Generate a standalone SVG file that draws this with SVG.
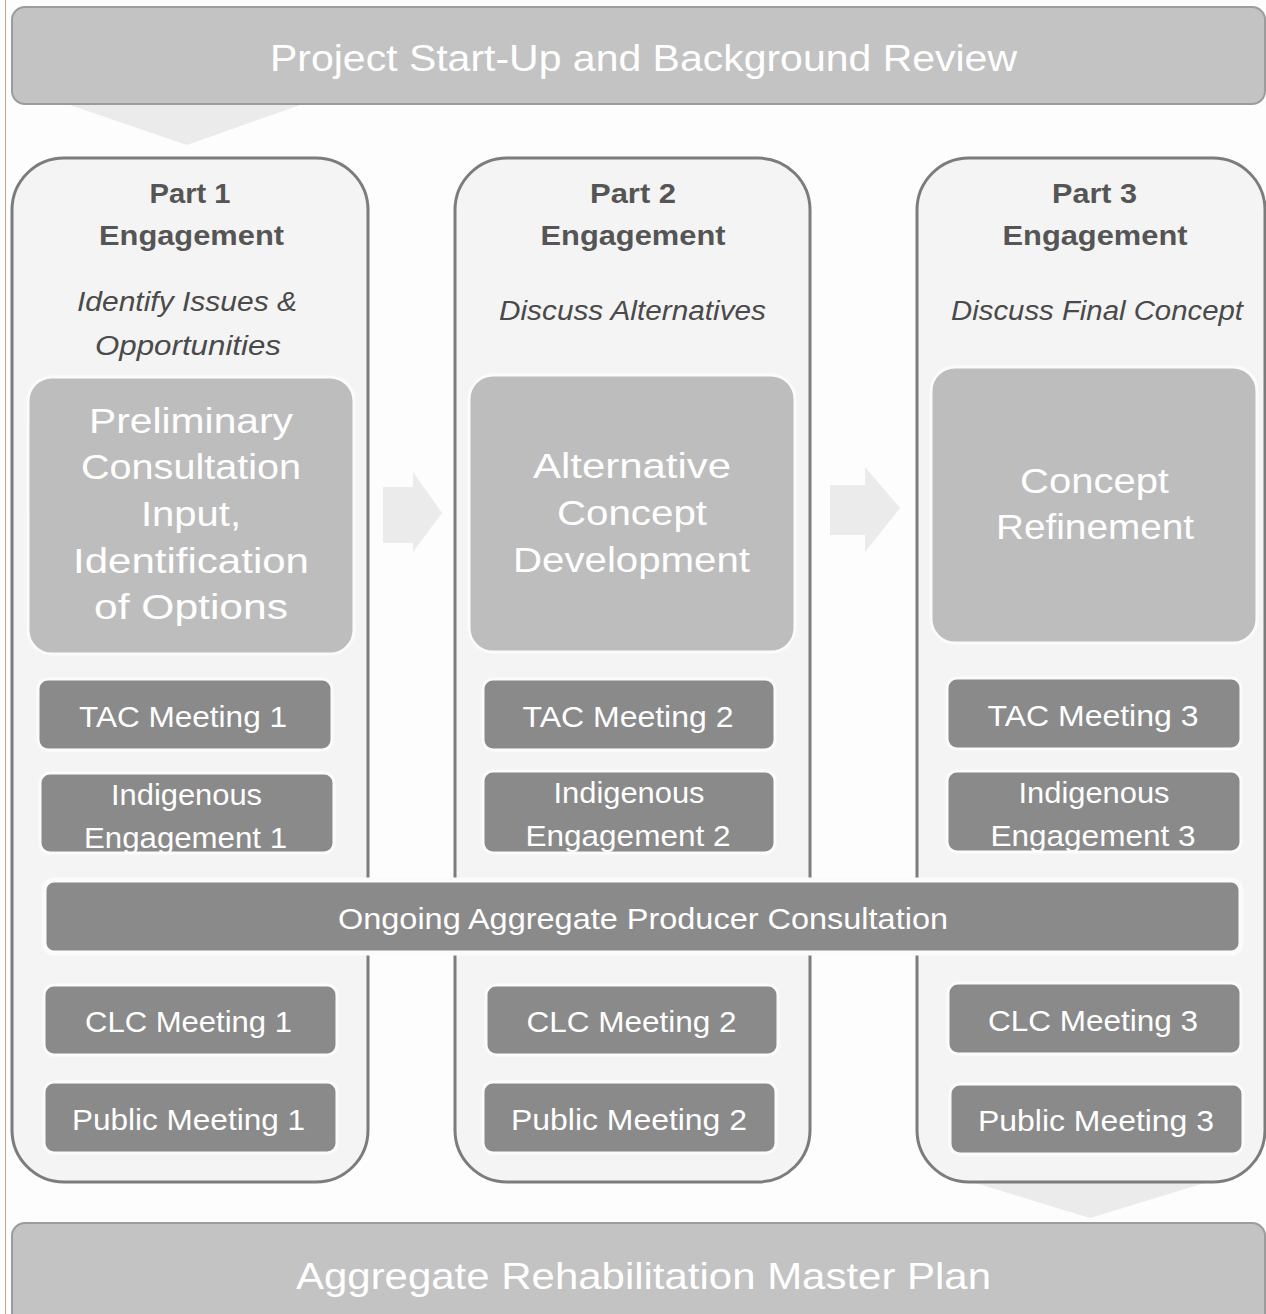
<svg xmlns="http://www.w3.org/2000/svg" width="1266" height="1314" viewBox="0 0 1266 1314">
<style>
text{font-family:"Liberation Sans",Arial,sans-serif;text-anchor:middle}
.banner{fill:#c3c3c3;stroke:#9c9c9c;stroke-width:2}
.bannerTxt{fill:#ffffff;font-size:37px}
.col{fill:#f4f4f4;stroke:#7c7c7c;stroke-width:3}
.head{fill:#555555;font-size:28px;font-weight:bold}
.sub{fill:#4a4a4a;font-size:27px;font-style:italic}
.big{fill:#bdbdbd;stroke:#fbfbfb;stroke-width:3}
.bigTxt{fill:#ffffff;font-size:35px}
.box{fill:#8a8a8a;stroke:#fbfbfb;stroke-width:3}
.boxTxt{fill:#ffffff;font-size:29px}
.conn{fill:#ebebeb}
</style>
<rect x="0" y="0" width="1266" height="1314" fill="#fdfdfd"/>
<line x1="5.5" y1="0" x2="5.5" y2="1314" stroke="#c9a387" stroke-width="1"/>

<g id="connectors">
<polygon class="conn" points="67,104 303,104 187,145"/>
<polygon class="conn" points="972,1182 1208,1182 1090,1218"/>
<polygon class="conn" points="383,487 413,487 413,472 442,513 413,552 413,543 383,543"/>
<polygon class="conn" points="830,485 865,485 865,467 900,508 865,552 865,535 830,535"/>
</g>

<g id="start">
<rect class="banner" x="12" y="7" width="1253" height="97" rx="13"/>
<text class="bannerTxt" x="643.5" y="71" textLength="747" lengthAdjust="spacingAndGlyphs">Project Start-Up and Background Review</text>
</g>

<g id="part1">
<rect class="col" x="12" y="158" width="356" height="1024" rx="52"/>
<text class="head" x="190" y="203" textLength="81" lengthAdjust="spacingAndGlyphs">Part 1</text>
<text class="head" x="191.5" y="245" textLength="185" lengthAdjust="spacingAndGlyphs">Engagement</text>
<text class="sub" x="187" y="311" textLength="220" lengthAdjust="spacingAndGlyphs">Identify Issues &amp;</text>
<text class="sub" x="188" y="355" textLength="186" lengthAdjust="spacingAndGlyphs">Opportunities</text>
</g>
<g id="part2">
<rect class="col" x="455" y="158" width="355" height="1024" rx="52"/>
<text class="head" x="633" y="203" textLength="86" lengthAdjust="spacingAndGlyphs">Part 2</text>
<text class="head" x="633" y="245" textLength="185" lengthAdjust="spacingAndGlyphs">Engagement</text>
<text class="sub" x="632.5" y="320" textLength="267" lengthAdjust="spacingAndGlyphs">Discuss Alternatives</text>
</g>
<g id="part3">
<rect class="col" x="917" y="158" width="348" height="1024" rx="52"/>
<text class="head" x="1094.5" y="203" textLength="85" lengthAdjust="spacingAndGlyphs">Part 3</text>
<text class="head" x="1095" y="245" textLength="185" lengthAdjust="spacingAndGlyphs">Engagement</text>
<text class="sub" x="1097" y="320" textLength="292" lengthAdjust="spacingAndGlyphs">Discuss Final Concept</text>
</g>

<g id="preliminary">
<rect class="big" x="28" y="377" width="326" height="277" rx="24"/>
<text class="bigTxt" x="191" y="433" textLength="204" lengthAdjust="spacingAndGlyphs">Preliminary</text>
<text class="bigTxt" x="191" y="479" textLength="220" lengthAdjust="spacingAndGlyphs">Consultation</text>
<text class="bigTxt" x="191" y="526" textLength="100" lengthAdjust="spacingAndGlyphs">Input,</text>
<text class="bigTxt" x="191" y="573" textLength="236" lengthAdjust="spacingAndGlyphs">Identification</text>
<text class="bigTxt" x="191" y="619" textLength="194" lengthAdjust="spacingAndGlyphs">of Options</text>
</g>
<g id="alternative">
<rect class="big" x="469" y="375" width="326" height="277" rx="24"/>
<text class="bigTxt" x="632" y="478" textLength="198" lengthAdjust="spacingAndGlyphs">Alternative</text>
<text class="bigTxt" x="632" y="525" textLength="150" lengthAdjust="spacingAndGlyphs">Concept</text>
<text class="bigTxt" x="631.5" y="572" textLength="237" lengthAdjust="spacingAndGlyphs">Development</text>
</g>
<g id="refinement">
<rect class="big" x="931" y="367" width="326" height="276" rx="24"/>
<text class="bigTxt" x="1094.5" y="493" textLength="149" lengthAdjust="spacingAndGlyphs">Concept</text>
<text class="bigTxt" x="1095" y="539" textLength="198" lengthAdjust="spacingAndGlyphs">Refinement</text>
</g>

<g id="tac1"><rect class="box" x="38" y="679" width="294" height="71" rx="10"/>
<text class="boxTxt" x="183" y="727" textLength="208" lengthAdjust="spacingAndGlyphs">TAC Meeting 1</text></g>
<g id="tac2"><rect class="box" x="483" y="679" width="292" height="71" rx="10"/>
<text class="boxTxt" x="628" y="727" textLength="211" lengthAdjust="spacingAndGlyphs">TAC Meeting 2</text></g>
<g id="tac3"><rect class="box" x="947" y="678" width="294" height="71" rx="10"/>
<text class="boxTxt" x="1093" y="726" textLength="211" lengthAdjust="spacingAndGlyphs">TAC Meeting 3</text></g>

<g id="ind1"><rect class="box" x="40" y="773" width="294" height="80" rx="10"/>
<text class="boxTxt" x="186.5" y="805" textLength="151" lengthAdjust="spacingAndGlyphs">Indigenous</text>
<text class="boxTxt" x="185.5" y="848" textLength="203" lengthAdjust="spacingAndGlyphs">Engagement 1</text></g>
<g id="ind2"><rect class="box" x="483" y="771" width="292" height="82" rx="10"/>
<text class="boxTxt" x="629" y="803" textLength="151" lengthAdjust="spacingAndGlyphs">Indigenous</text>
<text class="boxTxt" x="628" y="846" textLength="205" lengthAdjust="spacingAndGlyphs">Engagement 2</text></g>
<g id="ind3"><rect class="box" x="947" y="771" width="294" height="81" rx="10"/>
<text class="boxTxt" x="1094" y="803" textLength="151" lengthAdjust="spacingAndGlyphs">Indigenous</text>
<text class="boxTxt" x="1093" y="846" textLength="205" lengthAdjust="spacingAndGlyphs">Engagement 3</text></g>

<g id="ongoing"><rect class="box" x="44" y="880" width="1197" height="73" rx="10" style="stroke-width:5"/>
<text class="boxTxt" x="643" y="929" textLength="610" lengthAdjust="spacingAndGlyphs">Ongoing Aggregate Producer Consultation</text></g>

<g id="clc1"><rect class="box" x="44" y="985" width="293" height="70" rx="10"/>
<text class="boxTxt" x="188.5" y="1032" textLength="207" lengthAdjust="spacingAndGlyphs">CLC Meeting 1</text></g>
<g id="clc2"><rect class="box" x="486" y="985" width="292" height="70" rx="10"/>
<text class="boxTxt" x="631.5" y="1032" textLength="210" lengthAdjust="spacingAndGlyphs">CLC Meeting 2</text></g>
<g id="clc3"><rect class="box" x="948" y="983" width="293" height="71" rx="10"/>
<text class="boxTxt" x="1093" y="1031" textLength="210" lengthAdjust="spacingAndGlyphs">CLC Meeting 3</text></g>

<g id="pub1"><rect class="box" x="44" y="1082" width="293" height="71" rx="10"/>
<text class="boxTxt" x="188.5" y="1130" textLength="233" lengthAdjust="spacingAndGlyphs">Public Meeting 1</text></g>
<g id="pub2"><rect class="box" x="483" y="1082" width="293" height="71" rx="10"/>
<text class="boxTxt" x="629" y="1130" textLength="236" lengthAdjust="spacingAndGlyphs">Public Meeting 2</text></g>
<g id="pub3"><rect class="box" x="950" y="1084" width="293" height="70" rx="10"/>
<text class="boxTxt" x="1096" y="1131" textLength="236" lengthAdjust="spacingAndGlyphs">Public Meeting 3</text></g>

<g id="masterplan">
<rect class="banner" x="12" y="1223" width="1253" height="110" rx="13"/>
<text class="bannerTxt" x="643.5" y="1289" textLength="695" lengthAdjust="spacingAndGlyphs">Aggregate Rehabilitation Master Plan</text>
</g>
</svg>
